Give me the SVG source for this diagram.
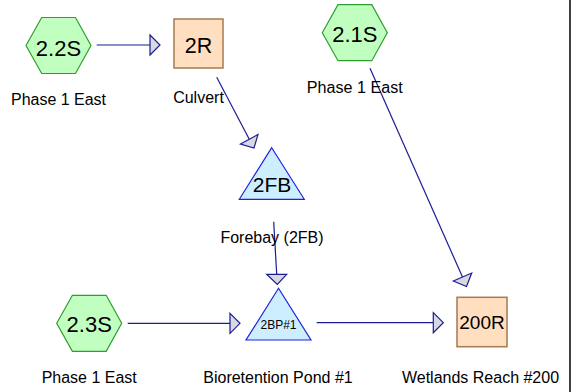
<svg xmlns="http://www.w3.org/2000/svg" width="572" height="392" viewBox="0 0 572 392">
<style>
text{font-family:"Liberation Sans",Arial,sans-serif;fill:#000;text-anchor:middle}
.lbl{font-size:16px}
.hex{fill:#c0ffc0;stroke:#2e9e2e;stroke-width:1.2}
.box{fill:#ffdfbf;stroke:#a67a4e;stroke-width:1.5}
.tri{fill:#cdeeff;stroke:#2020e0;stroke-width:1.2}
.ln{stroke:#1c1c96;stroke-width:1.2;fill:none}
.ah{fill:#d8d8e0;stroke:#1c1c96;stroke-width:1.2;stroke-linejoin:miter}
</style>
<rect x="0" y="0" width="572" height="392" fill="#fff"/>
<line x1="570" y1="0" x2="570" y2="392" stroke="#000" stroke-width="1.5"/>
<g id="connectors">
<line class="ln" x1="96.7" y1="45" x2="150" y2="45"/>
<polygon class="ah" points="150,35 160,45 150,55"/>
<line class="ln" x1="216.7" y1="77.3" x2="249.3" y2="139.2"/>
<polygon class="ah" points="240.5,144 258,134.5 254,148"/>
<line class="ln" x1="370" y1="68.3" x2="462.5" y2="277"/>
<polygon class="ah" points="453.3,281 471.7,273 466.5,286.5"/>
<line class="ln" x1="273.7" y1="221.7" x2="276.7" y2="274.3"/>
<polygon class="ah" points="266.7,274.3 286.7,274.3 277.3,284.5"/>
<line class="ln" x1="127.7" y1="323.3" x2="230" y2="323.3"/>
<polygon class="ah" points="230,313.3 240,323.3 230,333.3"/>
<line class="ln" x1="316.7" y1="322.7" x2="433.3" y2="322.7"/>
<polygon class="ah" points="433.3,312.7 443.3,322.7 433.3,332.7"/>
</g>
<g id="n2.2S">
<polygon class="hex" points="26,45.5 41.7,17.5 75.5,17.5 91,45.5 75.5,73.5 41.7,73.5"/>
<text x="58.5" y="55.5" font-size="22">2.2S</text>
<text class="lbl" x="58.5" y="105" textLength="95" lengthAdjust="spacingAndGlyphs">Phase 1 East</text>
</g>
<g id="n2R">
<rect class="box" x="174" y="19" width="49" height="49"/>
<text x="198.5" y="52.7" font-size="21.5">2R</text>
<text class="lbl" x="198.5" y="102.7">Culvert</text>
</g>
<g id="n2.1S">
<polygon class="hex" points="322.3,32.7 338,4.7 371.8,4.7 387.3,32.7 371.8,60.7 338,60.7"/>
<text x="354.8" y="41.7" font-size="22">2.1S</text>
<text class="lbl" x="354.7" y="93.3" textLength="96" lengthAdjust="spacingAndGlyphs">Phase 1 East</text>
</g>
<g id="n2FB">
<polygon class="tri" points="271.7,147.7 304.3,199.3 239.3,199.3"/>
<text x="272" y="192.3" font-size="21">2FB</text>
<text class="lbl" x="272" y="243.3">Forebay (2FB)</text>
</g>
<g id="n2.3S">
<polygon class="hex" points="56.7,323.3 72.4,295.3 106.2,295.3 121.7,323.3 106.2,351.3 72.4,351.3"/>
<text x="89.2" y="332" font-size="22">2.3S</text>
<text class="lbl" x="89.2" y="383" textLength="95" lengthAdjust="spacingAndGlyphs">Phase 1 East</text>
</g>
<g id="n2BP1">
<polygon class="tri" points="278.5,288.3 311,340 246,340"/>
<text x="278.5" y="329" font-size="12">2BP#1</text>
<text class="lbl" x="278" y="383">Bioretention Pond #1</text>
</g>
<g id="n200R">
<rect class="box" x="457" y="297.3" width="50" height="49.4"/>
<text x="482" y="329.3" font-size="19">200R</text>
<text class="lbl" x="480.5" y="382.5">Wetlands Reach #200</text>
</g>
</svg>
